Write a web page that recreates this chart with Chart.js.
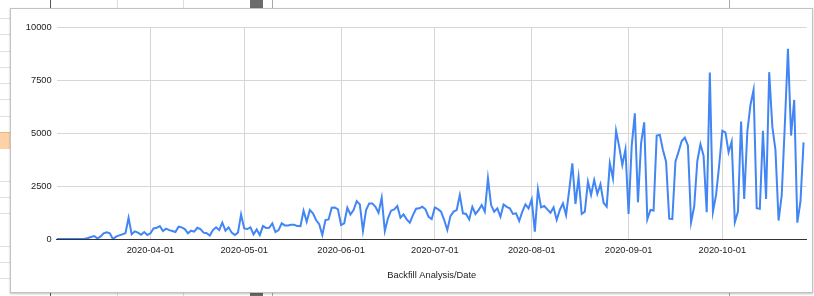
<!DOCTYPE html>
<html>
<head>
<meta charset="utf-8">
<script src="https://cdn.jsdelivr.net/npm/chart.js@4"></script>
<style>
  html, body { margin: 0; padding: 0; }
  body { width: 814px; height: 296px; position: relative; overflow: hidden; background: #fff; font-family: "Liberation Sans", Arial, sans-serif; }
  .rows { position: absolute; left: 0; top: 0; width: 10px; height: 296px;
          background: repeating-linear-gradient(to bottom, transparent 0, transparent 15.25px, #e0e0e0 15.25px, #e0e0e0 16.25px);
          background-position: 0 3px; }
  .cell { position: absolute; left: 0; top: 132px; width: 10px; height: 16px; background: #fcd2a6; border-top: 1px solid #f2b47a; }
  .vl { position: absolute; width: 1px; background: #ddd; }
  .box { position: absolute; left: 10px; top: 8px; width: 801px; height: 283px; background: #fff;
         border: 1px solid #c2c2c2; box-shadow: 0 1px 2px rgba(0,0,0,0.25); }
  #chart { position: absolute; left: 0; top: 0; }
</style>
</head>
<body>
<div class="rows"></div>
<div class="cell"></div>
<div class="vl" style="left:50px;top:0;height:296px;background:#555"></div>
<div class="vl" style="left:117px;top:0;height:296px"></div>
<div class="vl" style="left:183px;top:0;height:296px"></div>
<div class="vl" style="left:250px;top:0;height:296px;width:13px;background:#6b6b6b"></div>
<div class="vl" style="left:272px;top:0;height:296px;background:#aaa"></div>
<div class="vl" style="left:729px;top:0;height:296px;background:#aaa"></div>
<div class="box"></div>
<canvas id="chart" width="814" height="296"></canvas>
<script>
// daily values, starting at startDate
const startDate = '2020-03-02';
const endDate = '2020-10-28';
const backfill = [
  0, 0, 0, 0, 0, 0, 0, 0, 5, 15,
  45, 95, 140, 30, 110, 270, 315, 270, 0, 110,
  170, 220, 270, 1000, 220, 360, 300, 200, 330, 190,
  270, 500, 530, 610, 380, 490, 420, 380, 330, 580,
  550, 470, 270, 390, 345, 530, 470, 300, 270, 160,
  420, 550, 420, 770, 390, 550, 300, 190, 300, 1160,
  500, 470, 550, 220, 450, 190, 610, 520, 530, 740,
  330, 420, 740, 640, 640, 670, 670, 610, 600, 1330,
  815, 1365, 1210, 895, 700, 190, 895, 925, 1475, 1490,
  1400, 660, 740, 1475, 1160, 1365, 1790, 1630, 390, 1365,
  1680, 1680, 1520, 1240, 1950, 380, 975, 1335, 1400, 1555,
  1000, 1160, 925, 770, 1130, 1430, 1445, 1520, 1400, 1050,
  940, 1490, 1410, 1290, 895, 425, 1080, 1290, 1365, 2070,
  1210, 1180, 925, 1520, 1180, 1365, 1600, 1290, 2860, 1600,
  1290, 1445, 1050, 1630, 1520, 1445, 1180, 1210, 850, 1290,
  1630, 1445, 1870, 345, 2340, 1490, 1555, 1400, 1240, 1490,
  900, 1370, 1680, 1130, 2310, 3570, 1650, 2910, 1180, 1290,
  2700, 2080, 2780, 2120, 2580, 1710, 1525, 3570, 2860, 5110,
  4360, 3490, 4230, 1180, 4390, 5930, 1730, 4510, 5500, 930,
  1370, 1340, 4880, 4910, 4200, 3650, 960, 940, 3650, 4120,
  4620, 4780, 4400, 790, 1530, 3680, 4470, 3930, 1260, 7850,
  1290, 2080, 3490, 5100, 5030, 4090, 4590, 790, 1290, 5540,
  1890, 5060, 6320, 7030, 1450, 1420, 5100, 1890, 7870, 5300,
  4200, 870, 2050, 5380, 8970, 4880, 6560, 770, 1760, 4560
];
const monthTicks = ['2020-04-01', '2020-05-01', '2020-06-01', '2020-07-01', '2020-08-01', '2020-09-01', '2020-10-01'];
const yTicks = [0, 2500, 5000, 7500, 10000];

function dayIndex(s) {
  return Math.round((Date.parse(s) - Date.parse(startDate)) / 86400000);
}

const labelFont = { family: '"Liberation Sans", Arial, sans-serif', size: 9.3 };

new Chart(document.getElementById('chart'), {
  type: 'line',
  data: {
    datasets: [{
      label: 'Backfill Analysis',
      data: backfill.map((v, i) => ({ x: i, y: v })),
      borderColor: '#4285f4',
      borderWidth: 2,
      pointRadius: 0,
      tension: 0,
      fill: false
    }]
  },
  options: {
    responsive: false,
    animation: false,
    events: [],
    layout: { padding: { left: 0, top: 27, right: 7.3, bottom: 0 } },
    plugins: { legend: { display: false }, tooltip: { enabled: false } },
    scales: {
      x: {
        type: 'linear',
        min: 0,
        max: dayIndex(endDate),
        afterBuildTicks: function(scale) {
          scale.ticks = monthTicks.map(s => ({ value: dayIndex(s) }));
        },
        afterFit: function(scale) { scale.height = 57; },
        ticks: {
          autoSkip: false,
          maxRotation: 0,
          padding: 6,
          color: '#222',
          font: labelFont,
          callback: function(value, index) { return monthTicks[index]; }
        },
        grid: { color: '#d6d6d6', drawTicks: false },
        border: { color: '#333', width: 1 },
        title: {
          display: true,
          text: 'Backfill Analysis/Date',
          color: '#222',
          font: labelFont,
          padding: { top: 0, bottom: 15 }
        }
      },
      y: {
        min: 0,
        max: 10000,
        afterBuildTicks: function(scale) {
          scale.ticks = yTicks.map(v => ({ value: v }));
        },
        afterFit: function(scale) { scale.width = 56.7; },
        ticks: {
          padding: 5,
          color: '#222',
          font: labelFont,
          callback: function(value) { return String(value); }
        },
        grid: { color: function(ctx) { return ctx.tick && ctx.tick.value === 0 ? '#333' : '#d6d6d6'; }, drawTicks: false },
        border: { display: false }
      }
    }
  }
});
</script>
</body>
</html>
